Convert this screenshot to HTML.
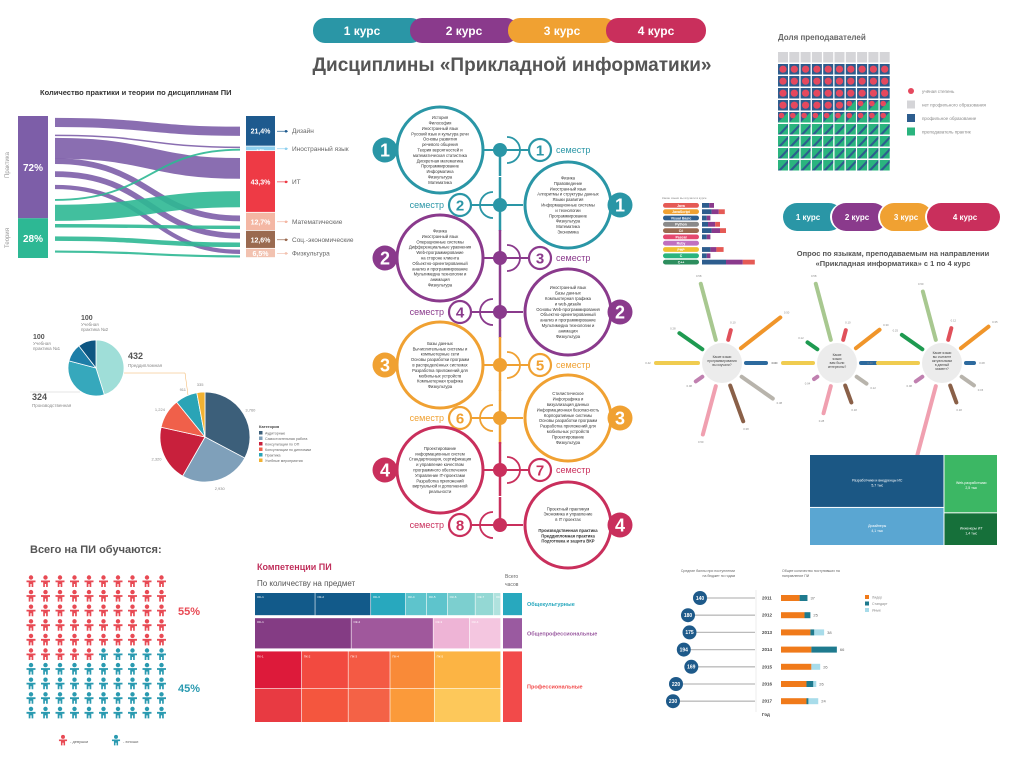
<!DOCTYPE html>
<html lang="ru"><head><meta charset="utf-8">
<style>
html,body{margin:0;padding:0;background:#fff;}
body{width:1024px;height:767px;overflow:hidden;font-family:"Liberation Sans","Noto Sans CJK SC",sans-serif;}
svg text{font-family:"Liberation Sans","Noto Sans CJK SC",sans-serif;}
</style></head>
<body>
<svg id="root" width="1024" height="767" viewBox="0 0 1024 767" xmlns="http://www.w3.org/2000/svg">
  <g>
    <rect x="313" y="18" width="110" height="25" rx="12" fill="#2a96a6"/>
    <rect x="410" y="18" width="108" height="25" rx="12" fill="#8a3a8c"/>
    <rect x="508" y="18" width="108" height="25" rx="12" fill="#f0a132"/>
    <rect x="606" y="18" width="100" height="25" rx="12" fill="#c92f5c"/>
    <text x="362" y="35" font-size="12" font-weight="bold" fill="#fff" text-anchor="middle">1 курс</text>
    <text x="464" y="35" font-size="12" font-weight="bold" fill="#fff" text-anchor="middle">2 курс</text>
    <text x="562" y="35" font-size="12" font-weight="bold" fill="#fff" text-anchor="middle">3 курс</text>
    <text x="656" y="35" font-size="12" font-weight="bold" fill="#fff" text-anchor="middle">4 курс</text>
  </g>
  <text x="512" y="71" font-size="19" font-weight="bold" fill="#555" text-anchor="middle">Дисциплины «Прикладной информатики»</text>

  <g id="sankey">
    <text x="40" y="95" font-size="7.5" font-weight="bold" fill="#333">Количество практики и теории по дисциплинам ПИ</text>
    <text x="9" y="165" font-size="6" fill="#999" transform="rotate(-90 9 165)" text-anchor="middle">Практика</text>
    <text x="9" y="238" font-size="6" fill="#999" transform="rotate(-90 9 238)" text-anchor="middle">Теория</text>
  </g>

  <g id="waffle">
    <text x="778" y="40" font-size="8" font-weight="bold" fill="#666">Доля преподавателей</text>
  </g>

  <g id="langbars">
    <text x="662" y="199" font-size="3" fill="#888">Какие языки вы изучали в курсе</text>
  </g>

  <g>
    <rect x="783" y="203" width="60" height="28" rx="14" fill="#2a96a6"/>
    <rect x="830" y="203" width="58" height="28" rx="14" fill="#fff"/>
    <rect x="832" y="203" width="55" height="28" rx="14" fill="#8a3a8c"/>
    <rect x="878" y="203" width="55" height="28" rx="14" fill="#fff"/>
    <rect x="880" y="203" width="52" height="28" rx="14" fill="#f0a132"/>
    <rect x="925" y="203" width="75" height="28" rx="14" fill="#fff"/>
    <rect x="927" y="203" width="73" height="28" rx="14" fill="#c92f5c"/>
    <text x="808" y="220" font-size="8" font-weight="bold" fill="#fff" text-anchor="middle">1 курс</text>
    <text x="857" y="220" font-size="8" font-weight="bold" fill="#fff" text-anchor="middle">2 курс</text>
    <text x="906" y="220" font-size="8" font-weight="bold" fill="#fff" text-anchor="middle">3 курс</text>
    <text x="965" y="220" font-size="8" font-weight="bold" fill="#fff" text-anchor="middle">4 курс</text>
  </g>
  <text x="893" y="256" font-size="7.5" font-weight="bold" fill="#555" text-anchor="middle">Опрос по языкам, преподаваемым на направлении</text>
  <text x="893" y="266" font-size="7.5" font-weight="bold" fill="#555" text-anchor="middle">«Прикладная информатика» с 1 по 4 курс</text>

  <g id="radials"></g>
  <g id="tree2"></g>
  <g id="timeline"></g>
  <g id="pies"></g>
  <g id="people">
    <text x="30" y="553" font-size="11" font-weight="bold" fill="#555">Всего на ПИ обучаются:</text>
  </g>
  <g id="comp">
    <text x="257" y="570" font-size="9" font-weight="bold" fill="#c0305c">Компетенции ПИ</text>
    <text x="257" y="586" font-size="8" fill="#555">По количеству на предмет</text>
    <text x="505" y="578" font-size="5" fill="#666">Всего</text>
    <text x="505" y="586" font-size="5" fill="#666">часов</text>
  </g>
  <g id="lolli">
    <text x="735" y="572" font-size="3.5" fill="#666" text-anchor="end">Средние баллы при поступлении</text>
    <text x="735" y="577" font-size="3.5" fill="#666" text-anchor="end">на бюджет по годам</text>
    <text x="782" y="572" font-size="3.5" fill="#666">Общее количество поступивших на</text>
    <text x="782" y="577" font-size="3.5" fill="#666">направление ПИ</text>
  </g>
</svg>
<script>
const NS='http://www.w3.org/2000/svg';
function mk(p,tag,at){const e=document.createElementNS(NS,tag);for(const k in at)e.setAttribute(k,at[k]);p.appendChild(e);return e;}
function tx(p,x,y,s,size,fill,anchor,weight){const e=mk(p,'text',{x:x,y:y,'font-size':size,fill:fill,'text-anchor':anchor||'start','font-weight':weight||'normal'});e.textContent=s;return e;}

/* ---------- SANKEY DATA ---------- */
const sankeySources=['Практика','Теория'];
const sankeySourceValues=[72,28];
const sankeyTargets=['Дизайн','Иностранный язык','ИТ','Математические','Соц.-экономические','Физкультура'];
const sankeyTargetValues=[21.4,3.2,43.3,12.7,12.6,6.5];
const sankeyTargetLabels=['21,4%','3,2%','43,3%','12,7%','12,6%','6,5%'];
const sankeyFlowSource=[0,0,0,0,0,0,1,1,1,1,1];
const sankeyFlowTarget=[0,1,2,3,4,5,1,2,3,4,5];
const sankeyFlowValue=[8,2,18,5,5,4,3,14,3,4,2];
(function(){
  const g=document.getElementById('sankey');
  const top=116,bot=258,H=bot-top;
  const srcCol=['#7d5ea8','#2db894'];
  const tgtCol=['#1e5a8e','#8fd0ef','#ee3a45','#f4b7a4','#9a6a50','#f2c2b0'];
  let y=top;const total=sankeySourceValues.reduce((a,b)=>a+b,0);
  sankeySourceValues.forEach((v,i)=>{const h=v/total*H;
    const r=mk(g,'rect',{x:18,y:y,width:30,height:h,fill:srcCol[i]});
    
    
    tx(g,33,y+h/2+4,v+'%',10,'#fff','middle','bold');y+=h;});
  const ttot=sankeyTargetValues.reduce((a,b)=>a+b,0);y=top;const tY=[];
  sankeyTargetValues.forEach((v,i)=>{const h=v/ttot*H;tY.push([y,h]);
    const r=mk(g,'rect',{x:246,y:y,width:29,height:h-0.8,fill:tgtCol[i]});
    
    
    tx(g,260.5,y+h/2+2.5,sankeyTargetLabels[i],h>8?7:3.5,'#fff','middle','bold');
    mk(g,'line',{x1:277,y1:y+h/2,x2:288,y2:y+h/2,stroke:tgtCol[i],'stroke-width':0.7});
    mk(g,'circle',{cx:286,cy:y+h/2,r:1.3,fill:tgtCol[i]});
    tx(g,292,y+h/2+2,sankeyTargets[i],6.5,'#666');y+=h;});
  const ftot=sankeyFlowValue.reduce((a,b)=>a+b,0);
  const n=sankeyFlowValue.length,slot=H/n;
  const tSum=sankeyTargetValues.map(()=>0);sankeyFlowValue.forEach((v,i)=>tSum[sankeyFlowTarget[i]]+=v);
  const order=[...Array(n).keys()].sort((a,b)=>sankeyFlowSource[a]-sankeyFlowSource[b]);
  const tCur=tY.map(t=>t[0]);
  order.forEach((i,k)=>{const v=sankeyFlowValue[i],t=sankeyFlowTarget[i];
    const th=tY[t][1]*v/tSum[t];
    const w=Math.max(1.5,Math.min(v/ftot*H*0.55,th*0.7));
    const y0=top+slot*(k+0.5),y1=tCur[t]+th/2;tCur[t]+=th;
    const p=mk(g,'path',{d:`M55 ${y0} C150 ${y0} 150 ${y1} 240 ${y1}`,fill:'none',stroke:srcCol[sankeyFlowSource[i]],'stroke-width':w,opacity:0.9});
    
    });
})();

/* ---------- WAFFLE ---------- */
const waffleCategories=['учёная степень','нет профильного образования','профильное образование','преподаватель практик'];
const waffleCounts=[36,10,14,40];
(function(){
  const g=document.getElementById('waffle');
  const order=[1,0,2,3];const seq=[];order.forEach(t=>{for(let k=0;k<waffleCounts[t];k++)seq.push(t);});
  seq.forEach((t,i)=>{const r=Math.floor(i/10),c=i%10,x=778+c*11.3,y=52+r*12;
    let e;
    if(t===1){e=mk(g,'rect',{x:x,y:y,width:10,height:10.5,fill:'#d5d5d8'});}
    else if(t===0){e=mk(g,'rect',{x:x,y:y,width:10,height:10.5,fill:'#2d5d8e'});mk(g,'circle',{cx:x+5,cy:y+5.2,r:3.6,fill:'#e5485e'});}
    else if(t===2){e=mk(g,'rect',{x:x,y:y,width:10,height:10.5,fill:'#2d5d8e'});mk(g,'path',{d:`M${x} ${y+10.5}L${x+10} ${y+10.5}L${x+10} ${y}Z`,fill:'#2ab47e'});mk(g,'circle',{cx:x+3.5,cy:y+3.5,r:2.8,fill:'#e5485e'});}
    else {e=mk(g,'rect',{x:x,y:y,width:10,height:10.5,fill:'#2ab47e'});mk(g,'path',{d:`M${x} ${y+10.5}L${x+10} ${y}L${x+10} ${y+3}L${x+3} ${y+10.5}Z`,fill:'#2d5d8e'});}
    
    });
  const lc=['#e5485e','#d5d5d8','#2d5d8e','#2ab47e'];
  waffleCategories.forEach((s,i)=>{const y=91+i*13.5;
    const e=i===0?mk(g,'circle',{cx:911,cy:y,r:3,fill:lc[i]}):mk(g,'rect',{x:907,y:y-4,width:8,height:8,fill:lc[i]});
    
    
    tx(g,922,y+2,s,4.5,'#888');});
})();

/* ---------- LANGUAGE BARS ---------- */
const langNames=['Java','JavaScript','Visual Basic','Python','C#','Pascal','Ruby','PHP','C','C++'];
const langSeg1=[6,8,4,5,8,4,0,7,4,20];
const langSeg2=[4,6,3,6,7,3,0,5,3,14];
const langSeg3=[0,5,0,4,5,0,0,6,0,10];
(function(){
  const g=document.getElementById('langbars');
  const pc=['#e55a55','#f0a132','#2d5d8e','#8a8a8a','#9a6a50','#e5486e','#c070c0','#f0c030','#2ab47e','#2d8e5e'];
  langNames.forEach((n,i)=>{const y=203+i*6.3;
    const p=mk(g,'rect',{x:663,y:y,width:36,height:4.8,rx:2.4,fill:pc[i]});
    
    
    tx(g,681,y+3.8,n,3.5,'#fff','middle','bold');
    let x=702;[[langSeg1,'#2d5d8e'],[langSeg2,'#8a3a8c'],[langSeg3,'#e55a55']].forEach(([a,c])=>{const w=a[i]*1.2;if(w>0){const b=mk(g,'rect',{x:x,y:y,width:w,height:4.8,fill:c});
      
      x+=w;}});});
})();

/* ---------- RADIALS ---------- */
const spokeColors=['#a8c890','#e0505a','#f0952a','#2d6a9e','#b8b4ac','#8a6048','#f0a0b0','#c080b0','#f0cc50','#1e9a50'];
const spokeAngles=[-15,15,52,90,125,160,195,235,270,305];
const radialA=[58,10,50,20,38,38,50,8,42,28];
const radialB=[58,10,30,15,12,18,28,4,30,12];
const radialC=[50,12,35,8,15,18,80,8,40,25];
const radialCenters=[[722,363],[837,363],[942,363]];
const radialQuestions=[['Какие языки','программирования','вы изучали?'],['Какие','языки','вам были','интересны?'],['Какие языки','вы считаете','актуальными','в данный','момент?']];
(function(){
  const g=document.getElementById('radials');
  [radialA,radialB,radialC].forEach((vals,k)=>{const [cx,cy]=radialCenters[k];
    const c=mk(g,'circle',{cx:cx,cy:cy,r:20,fill:'#ececec'});
    
    
    radialQuestions[k].forEach((s,j)=>tx(g,cx,cy-5+j*4-(radialQuestions[k].length-3)*2,s,3.3,'#444','middle'));
    vals.forEach((v,i)=>{const a=spokeAngles[i]*Math.PI/180,r0=24,r1=24+v;
      const x0=cx+Math.sin(a)*r0,y0=cy-Math.cos(a)*r0,x1=cx+Math.sin(a)*r1,y1=cy-Math.cos(a)*r1;
      const l=mk(g,'line',{x1:x0,y1:y0,x2:x1,y2:y1,stroke:spokeColors[i],'stroke-width':4,'stroke-linecap':'round'});
      
      
      tx(g,cx+Math.sin(a)*(r1+8),cy-Math.cos(a)*(r1+8)+1,(v/100).toFixed(2),2.8,'#888','middle');});});
})();

/* ---------- RIGHT TREEMAP ---------- */
const tree2Labels=['Разработчики и внедренцы ИС','Дизайнеры','Web-разработчики','Инженеры ИТ'];
const tree2Values=[5.7,4.1,2.5,1.4];
(function(){
  const g=document.getElementById('tree2');
  const X=810,Y=455,W=188,H=91;const tot=tree2Values.reduce((a,b)=>a+b,0);
  const w1=(tree2Values[0]+tree2Values[1])/tot*W;
  const h0=tree2Values[0]/(tree2Values[0]+tree2Values[1])*H;
  const h2=tree2Values[2]/(tree2Values[2]+tree2Values[3])*H;
  const cells=[[X,Y,w1,h0,'#1b5784'],[X,Y+h0,w1,H-h0,'#5aa6d2'],[X+w1,Y,W-w1,h2,'#3cb764'],[X+w1,Y+h2,W-w1,H-h2,'#16703a']];
  cells.forEach((c,i)=>{const r=mk(g,'rect',{x:c[0],y:c[1],width:c[2]-1,height:c[3]-1,fill:c[4]});
    
    
    tx(g,c[0]+c[2]/2,c[1]+c[3]/2,tree2Labels[i],3.5,'#fff','middle');
    tx(g,c[0]+c[2]/2,c[1]+c[3]/2+5,tree2Values[i].toFixed(1).replace('.',',')+' тыс',3.5,'#fff','middle');});
})();

/* ---------- TIMELINE ---------- */
(function(){
  const g=document.getElementById('timeline');
  const cols=['#2a96a6','#8a3a8c','#f0a132','#c92f5c'];
  const rows=[150,205,258,312,365,418,470,525];
  const texts=[['История','Философия','Иностранный язык','Русский язык и культура речи','Основы развития','речевого общения','Теория вероятностей и','математическая статистика','Дискретная математика','Программирование','Информатика','Физкультура','Математика'],
  ['Физика','Правоведение','Иностранный язык','Алгоритмы и структуры данных','Языки развития','Информационные системы','и технологии','Программирование','Физкультура','Математика','Экономика'],
  ['Физика','Иностранный язык','Операционные системы','Дифференциальные уравнения','Web-программирование','на стороне клиента','Объектно-ориентированный','анализ и программирование','Мультимедиа технологии и','анимация','Физкультура'],
  ['Иностранный язык','Базы данных','Компьютерная графика','и web-дизайн','Основы Web-программирования','Объектно-ориентированный','анализ и программирование','Мультимедиа технологии и','анимация','Физкультура'],
  ['Базы данных','Вычислительные системы и','компьютерные сети','Основы разработки программ','в распределённых системах','Разработка приложений для','мобильных устройств','Компьютерная графика','Физкультура'],
  ['Стилистическое','Инфографика и','визуализация данных','Информационная безопасность','Корпоративные системы','Основы разработки программ','Разработка приложений для','мобильных устройств','Проектирование','Физкультура'],
  ['Проектирование','информационных систем','Стандартизация, сертификация','и управление качеством','программного обеспечения','Управление IT-проектами','Разработка приложений','виртуальной и дополненной','реальности'],
  ['Проектный практикум','Экономика и управление','в IT проектах','','Производственная практика','Преддипломная практика','Подготовка и защита ВКР']];
  for(let i=0;i<8;i++){const c=cols[Math.floor(i/2)];
    mk(g,'path',{d:`M500 ${i===0?rows[0]:rows[i]-28} L500 ${i===7?rows[7]:rows[i]+26}`,stroke:c,'stroke-width':2.5,fill:'none'});
  }
  rows.forEach((y,i)=>{const c=cols[Math.floor(i/2)],left=i%2===0,k=Math.floor(i/2);
    mk(g,'path',{d:`M${left?507:493} ${y-13} A13 13 0 0 ${left?1:0} ${left?507:493} ${y+13}`,fill:'none',stroke:c,'stroke-width':1.8});
    const dot=mk(g,'circle',{cx:500,cy:y,r:7,fill:c});
    
    
    const sx=left?540:460;
    mk(g,'line',{x1:500,y1:y,x2:sx,y2:y,stroke:c,'stroke-width':2});
    const sc=mk(g,'circle',{cx:sx,cy:y,r:11,fill:'#fff',stroke:c,'stroke-width':2.2});
    
    
    tx(g,sx,y+5.5,String(i+1),15,c,'middle','bold');
    tx(g,left?556:444,y+3,'семестр',9,c,left?'start':'end');
    const bx=left?440:568;
    mk(g,'line',{x1:left?482:500,y1:y,x2:left?500:523,y2:y,stroke:c,'stroke-width':2});
    const bc=mk(g,'circle',{cx:bx,cy:y,r:43,fill:'#fff',stroke:c,'stroke-width':3});
    
    
    const t=texts[i];t.forEach((s,j)=>tx(g,bx,y-((t.length-1)*5.4)/2+j*5.4+1.5,s,4.2,'#333','middle',(i===7&&j>3)?'bold':'normal'));
    const nx=left?385:620;
    const nc=mk(g,'circle',{cx:nx,cy:y,r:12.5,fill:c});
    
    
    tx(g,nx,y+6.5,String(k+1),18,'#fff','middle','bold');
  });
})();

/* ---------- PIES ---------- */
const pieSmallLabels=['Преддипломная','Производственная','Учебная практика №1','Учебная практика №2'];
const pieSmallValues=[432,324,100,100];
const pieBigLabels=['Аудиторные','Самостоятельная работа','Консультации по ОП','Консультации по дипломам','Практика','Учебные мероприятия'];
const pieBigValues=[3760,2930,2320,1224,911,335];
function pie(g,cx,cy,r,vals,cols,name){const tot=vals.reduce((a,b)=>a+b,0);let a0=0;const mids=[];
  vals.forEach((v,i)=>{const a1=a0+v/tot*2*Math.PI;
    const x0=cx+r*Math.sin(a0),y0=cy-r*Math.cos(a0),x1=cx+r*Math.sin(a1),y1=cy-r*Math.cos(a1);
    const p=mk(g,'path',{d:`M${cx} ${cy}L${x0} ${y0}A${r} ${r} 0 ${a1-a0>Math.PI?1:0} 1 ${x1} ${y1}Z`,fill:cols[i],stroke:'#fff','stroke-width':0.8});
    
    
    mids.push((a0+a1)/2);a0=a1;});return mids;}
(function(){
  const g=document.getElementById('pies');
  pie(g,96,368,28,pieSmallValues,['#9fded8','#36a8bc','#1e7ea8','#0d5682'],'small-pie-slice');
  tx(g,128,359,'432',9,'#555','start','bold');tx(g,128,367,pieSmallLabels[0],4.5,'#888');
  tx(g,32,400,'324',9,'#555','start','bold');tx(g,32,407,pieSmallLabels[1],4.5,'#888');
  tx(g,33,339,'100',7,'#555','start','bold');tx(g,33,345,'Учебная',4.5,'#888');tx(g,33,350,'практика №1',4.5,'#888');
  tx(g,81,320,'100',7,'#555','start','bold');tx(g,81,326,'Учебная',4.5,'#888');tx(g,81,331,'практика №2',4.5,'#888');
  mk(g,'polyline',{points:'124,373 185,373 188,395',fill:'none',stroke:'#f0b060','stroke-width':0.5});
  mk(g,'line',{x1:30,y1:392,x2:80,y2:392,stroke:'#ccc','stroke-width':0.5});
  const bc=['#3c5f7a','#7fa0ba','#c8203c','#f0604a','#2aa4b6','#f2b232'];
  const mids=pie(g,205,437,45,pieBigValues,bc,'big-pie-slice');
  mids.forEach((a,i)=>tx(g,205+53*Math.sin(a),437-53*Math.cos(a)+2,pieBigValues[i].toLocaleString('en-US'),4,'#888','middle'));
  tx(g,259,428,'Категория',4,'#444','start','bold');
  pieBigLabels.forEach((s,i)=>{const r=mk(g,'rect',{x:259,y:431+i*5.5,width:3.5,height:3.5,fill:bc[i]});
    
    
    tx(g,265,434.5+i*5.5,s,3.6,'#666');});
})();

/* ---------- PEOPLE ---------- */
const peopleCategories=['девушки','юноши'];
const peopleCounts=[55,45];
(function(){
  const g=document.getElementById('people');
  const cols=['#e84a54','#2a9ab0'];let idx=0;
  function person(x,y,c,s){const gg=mk(g,'g',{fill:c});
    mk(gg,'circle',{cx:x,cy:y-3.5*s,r:2.2*s});
    mk(gg,'path',{d:`M${x-4.5*s} ${y-0.5*s}L${x+4.5*s} ${y-0.5*s}L${x+4.5*s} ${y+1.3*s}L${x+2.3*s} ${y+1.3*s}L${x+2.3*s} ${y+6*s}L${x+0.6*s} ${y+6*s}L${x+0.6*s} ${y+3*s}L${x-0.6*s} ${y+3*s}L${x-0.6*s} ${y+6*s}L${x-2.3*s} ${y+6*s}L${x-2.3*s} ${y+1.3*s}L${x-4.5*s} ${y+1.3*s}Z`});
    return gg;}
  peopleCounts.forEach((n,k)=>{for(let i=0;i<n;i++,idx++){const r=Math.floor(idx/10),c=idx%10;
    const p=person(31+c*14.5,581+r*14.6,cols[k],1);
    
    }});
  tx(g,178,615,peopleCounts[0]+'%',11,cols[0],'start','bold');
  tx(g,178,692,peopleCounts[1]+'%',11,cols[1],'start','bold');
  person(63,740,cols[0],0.9);tx(g,70,743,'- '+peopleCategories[0],4,'#666');
  person(116,740,cols[1],0.9);tx(g,123,743,'- '+peopleCategories[1],4,'#666');
})();

/* ---------- COMPETENCES TREEMAP ---------- */
const compRow1=[26,24,15,9,9,12,8,3];
const compRow2=[40,34,15,13];
const compRow3Cols=[19,19,17,18,27];
const compRowNames=['Общекультурные','Общепрофессиональные','Профессиональные'];
const compRowTotals=[22,30,70];
(function(){
  const g=document.getElementById('comp');
  const X=255,W=246;const gap=3;
  const tot=compRowTotals.reduce((a,b)=>a+b,0),Htot=722-593-2*gap;
  let y=593;const ys=compRowTotals.map(v=>{const h=v/tot*Htot;const r=[y,h];y+=h+gap;return r;});
  function row(vals,cols,yy,h){const t=vals.reduce((a,b)=>a+b,0);let x=X;
    vals.forEach((v,i)=>{const w=v/t*W;const r=mk(g,'rect',{x:x,y:yy,width:w-0.6,height:h,fill:cols[i]});
      
      
      tx(g,x+2,yy+5,'ОК-'+(i+1),3,'#fff');x+=w;});}
  row(compRow1,['#125a8a','#125a8a','#28a8be','#5ec4cc','#5ec4cc','#7ccfcf','#94d8d4','#b0e2de'],ys[0][0],ys[0][1]);
  row(compRow2,['#843c84','#a0589c','#eeb4d6','#f4c6e0'],ys[1][0],ys[1][1]);
  const c3=['#dd1a3a','#f24a40','#f45a44','#f98a38','#fcb444'];
  const c3b=['#e83a42','#f4563e','#f46246','#fb9a3a','#fdc85a'];
  const t3=compRow3Cols.reduce((a,b)=>a+b,0);let x=X;const [y3,h3]=ys[2];
  compRow3Cols.forEach((v,i)=>{const w=v/t3*W;
    const a=mk(g,'rect',{x:x,y:y3,width:w-0.6,height:h3*0.52,fill:c3[i]});
    
    
    const b=mk(g,'rect',{x:x,y:y3+h3*0.52+0.6,width:w-0.6,height:h3*0.48-0.6,fill:c3b[i]});
    
    
    tx(g,x+2,y3+6,'ПК-'+(i+1),3,'#fff');x+=w;});
  const sc=['#28a8be','#9a5aa0','#f24a4a'];
  ys.forEach(([yy,h],i)=>{const r=mk(g,'rect',{x:503,y:yy,width:19,height:h,fill:sc[i]});
    
    
    tx(g,527,yy+h/2+2,compRowNames[i],5.5,sc[i],'start','bold');});
})();

/* ---------- LOLLIPOP + STACKED BARS ---------- */
const lolliYears=['2011','2012','2013','2014','2015','2016','2017'];
const lolliScores=[140,180,175,194,169,220,230];
const barOrange=[19,24,30,31,31,26,26];
const barTeal=[8,6,4,26,0,7,2];
const barLight=[0,0,10,0,9,3,10];
const barTotals=[37,25,38,66,26,26,24];
(function(){
  const g=document.getElementById('lolli');
  const xs=v=>700-(v-140)*0.3, bs=0.98;
  lolliYears.forEach((yr,i)=>{const y=598+i*17.2,cx=xs(lolliScores[i]);
    mk(g,'line',{x1:cx,y1:y,x2:755,y2:y,stroke:'#bbb','stroke-width':1.3});
    const c=mk(g,'circle',{cx:cx,cy:y,r:7,fill:'#1e5a8a'});
    
    
    tx(g,cx,y+1.8,String(lolliScores[i]),5,'#fff','middle','bold');
    tx(g,762,y+1.5,yr,4.5,'#444','start','bold');
    let x=781;[[barOrange,'#f07a1a'],[barTeal,'#1e7a8e'],[barLight,'#a8dcea']].forEach(([a,col])=>{const w=a[i]*bs;if(w>0){const r=mk(g,'rect',{x:x,y:y-3,width:w,height:6,fill:col});
      
      x+=w;}});
    tx(g,x+3,y+1.5,String(barTotals[i]),4,'#666');});
  tx(g,762,716,'Год',4.5,'#444','start','bold');
  mk(g,'line',{x1:756,y1:590,x2:756,y2:712,stroke:'#ddd','stroke-width':0.5});
  [['#f07a1a','Лидер'],['#1e7a8e','Стандарт'],['#a8dcea','Иные']].forEach(([c,s],i)=>{const r=mk(g,'rect',{x:865,y:595+i*6.5,width:4,height:4,fill:c});
    
    
    tx(g,872,598.5+i*6.5,s,3.5,'#888');});
})();
</script>
</body></html>
